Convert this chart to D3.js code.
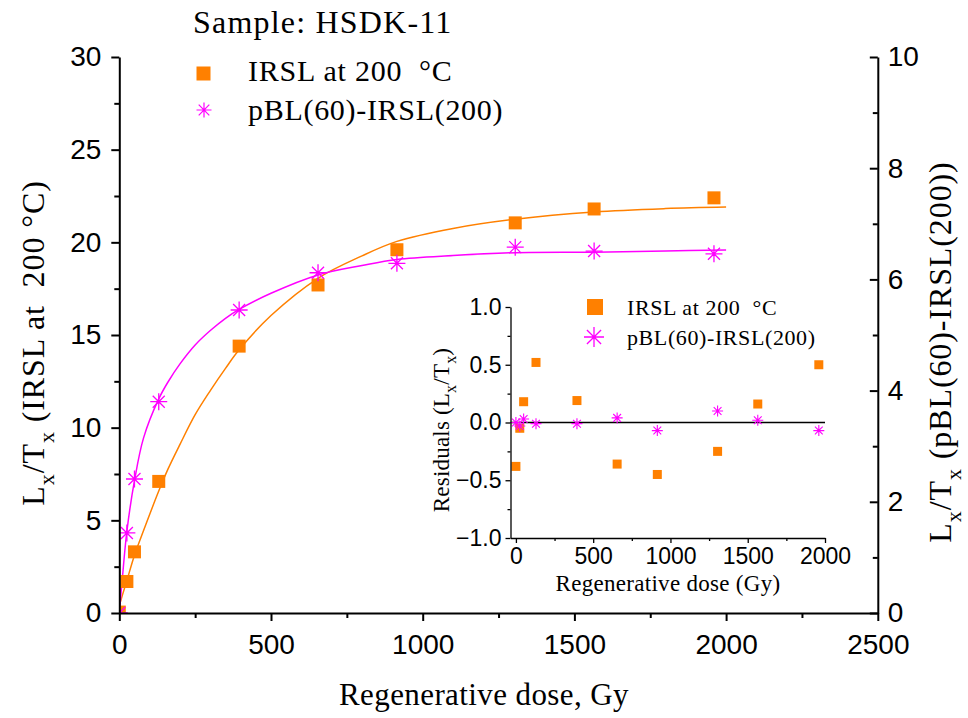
<!DOCTYPE html>
<html>
<head>
<meta charset="utf-8">
<script src="https://cdn.jsdelivr.net/npm/d3@7"></script>
<style>
  body { margin: 0; background: #fff; }
  .serif { font-family: "Liberation Serif", "Times New Roman", serif; }
  .axis text { font-family: "Liberation Sans", Arial, sans-serif; fill: #000; }
  .axis path, .axis line { stroke: #000; }
</style>
</head>
<body>
<svg id="chart" width="968" height="718"></svg>
<script>
// measured doses (Gy) and sensitivity-corrected signals
const doses = [0, 25, 50, 130, 395, 655, 915, 1305, 1565, 1960];
const irslLT = [0.05, 1.7, 3.3, 7.1, 14.4, 17.7, 19.6, 21.05, 21.8, 22.4];
const pblLT = [0.0, 1.44, 2.41, 3.80, 5.45, 6.12, 6.29, 6.58, 6.51, 6.46];

// fitted growth curves
const fitDoses = [0, 10, 25, 50, 80, 130, 160, 200, 250, 300, 350, 395, 500, 655, 800, 915, 1100, 1305, 1565, 1800, 2000];
const irslFit = [0.4, 0.95, 1.75, 3.12, 4.45, 6.58, 7.75, 9.1, 10.7, 12.0, 13.2, 14.2, 16.05, 18.06, 19.27, 20.05, 20.75, 21.25, 21.64, 21.82, 21.9];
const pblFit = [0, 0.62, 1.47, 2.38, 3.15, 3.85, 4.15, 4.48, 4.82, 5.08, 5.3, 5.46, 5.75, 6.08, 6.25, 6.36, 6.43, 6.48, 6.49, 6.51, 6.53];

// residuals (inset)
const irslResid = [-0.38, -0.05, 0.18, 0.52, 0.19, -0.36, -0.45, -0.25, 0.16, 0.50];
const pblResid = [0.0, -0.03, 0.03, -0.01, -0.01, 0.04, -0.07, 0.10, 0.02, -0.07];

const xTicks = [0, 500, 1000, 1500, 2000, 2500];
const xMinor = [250, 750, 1250, 1750, 2250];
const yLeftTicks = [0, 5, 10, 15, 20, 25, 30];
const yLeftMinor = [2.5, 7.5, 12.5, 17.5, 22.5, 27.5];
const yRightTicks = [0, 2, 4, 6, 8, 10];
const yRightMinor = [1, 3, 5, 7, 9];
const insetXTicks = [0, 500, 1000, 1500, 2000];
const insetXMinor = [250, 750, 1250, 1750];
const insetYTicks = [-1, -0.5, 0, 0.5, 1];
const insetYMinor = [-0.75, -0.25, 0.25, 0.75];

const orange = "#ff8000";
const magenta = "#ff00ff";
const serif = '"Liberation Serif", "Times New Roman", serif';

const svg = d3.select("#chart");

// 8-armed star like Origin's asterisk
const star8 = {
  draw(ctx, size) {
    const r = Math.sqrt(size) / 2;
    for (let i = 0; i < 4; i++) {
      const a = i * Math.PI / 4;
      ctx.moveTo(-r * Math.cos(a), -r * Math.sin(a));
      ctx.lineTo(r * Math.cos(a), r * Math.sin(a));
    }
  }
};

// ---------- main plot ----------
const x = d3.scaleLinear().domain([0, 2500]).range([119.3, 877.8]);
const yL = d3.scaleLinear().domain([0, 30]).range([613, 57]);
const yR = d3.scaleLinear().domain([0, 10]).range([613, 57]);

svg.append("clipPath").attr("id", "clipMain")
  .append("rect")
  .attr("x", x(0)).attr("y", yL(30) - 20)
  .attr("width", x(2500) - x(0)).attr("height", yL(0) - yL(30) + 20);

const plot = svg.append("g").attr("clip-path", "url(#clipMain)");

const lineL = d3.line().curve(d3.curveCatmullRom)
  .x((d, i) => x(fitDoses[i])).y(d => yL(d));
const lineR = d3.line().curve(d3.curveCatmullRom)
  .x((d, i) => x(fitDoses[i])).y(d => yR(d));

plot.append("path").datum(irslFit)
  .attr("d", lineL).attr("fill", "none")
  .attr("stroke", orange).attr("stroke-width", 1.5);
plot.append("path").datum(pblFit)
  .attr("d", lineR).attr("fill", "none")
  .attr("stroke", magenta).attr("stroke-width", 1.5);

plot.selectAll(".sq").data(irslLT).enter().append("rect")
  .attr("x", (d, i) => x(doses[i]) - 6.5)
  .attr("y", d => yL(d) - 6.5)
  .attr("width", 13).attr("height", 13)
  .attr("fill", orange);

plot.selectAll(".st").data(pblLT).enter().append("path")
  .attr("transform", (d, i) => `translate(${x(doses[i])},${yR(d)})`)
  .attr("d", d3.symbol().type(star8).size(289))
  .attr("fill", "none").attr("stroke", magenta).attr("stroke-width", 1.3);

// axes
const fmtInt = d3.format("d");

function styleAxis(g, fs, w) {
  g.attr("class", "axis");
  g.selectAll("text").style("font-size", fs + "px");
  g.selectAll("path, line").attr("stroke-width", w);
}

svg.append("g").attr("transform", `translate(0,${yL(0)})`)
  .call(d3.axisBottom(x).tickValues(xMinor).tickSize(5).tickFormat("").tickSizeOuter(0))
  .call(g => g.select(".domain").remove())
  .call(g => styleAxis(g, 28, 2));
svg.append("g").attr("transform", `translate(0,${yL(0)})`)
  .call(d3.axisBottom(x).tickValues(xTicks).tickFormat(fmtInt).tickSize(8).tickPadding(13).tickSizeOuter(0))
  .call(g => styleAxis(g, 28, 2));

svg.append("g").attr("transform", `translate(${x(0)},0)`)
  .call(d3.axisLeft(yL).tickValues(yLeftMinor).tickSize(5).tickFormat("").tickSizeOuter(0))
  .call(g => g.select(".domain").remove())
  .call(g => styleAxis(g, 28, 2));
svg.append("g").attr("transform", `translate(${x(0)},0)`)
  .call(d3.axisLeft(yL).tickValues(yLeftTicks).tickFormat(fmtInt).tickSize(8).tickPadding(10).tickSizeOuter(0))
  .call(g => styleAxis(g, 28, 2));

svg.append("g").attr("transform", `translate(${x(2500)},0)`)
  .call(d3.axisRight(yR).tickValues(yRightMinor).tickSize(-5).tickFormat("").tickSizeOuter(0))
  .call(g => g.select(".domain").remove())
  .call(g => styleAxis(g, 28, 2));
svg.append("g").attr("transform", `translate(${x(2500)},0)`)
  .call(d3.axisRight(yR).tickValues(yRightTicks).tickFormat(fmtInt).tickSize(-8).tickPadding(10).tickSizeOuter(0))
  .call(g => styleAxis(g, 28, 2));

// axis titles
function ltx(t, fs, rest) {
  const sub = Math.round(fs * 0.68), sh = Math.round(fs * 0.3);
  t.append("tspan").text("L");
  t.append("tspan").attr("dy", sh).style("font-size", sub + "px").text("x");
  t.append("tspan").attr("dy", -sh).text("/T");
  t.append("tspan").attr("dy", sh).style("font-size", sub + "px").text("x");
  t.append("tspan").attr("dy", -sh).text(rest);
}

function serifText(parent, size, spacing) {
  return parent.append("text").attr("class", "serif")
    .style("font-family", serif)
    .style("font-size", size + "px")
    .style("letter-spacing", spacing + "px");
}

serifText(svg, 31, 0.4)
  .attr("x", 484).attr("y", 705).attr("text-anchor", "middle")
  .text("Regenerative dose, Gy");

serifText(svg, 32, 0.9)
  .attr("transform", "translate(44,343) rotate(-90)")
  .attr("text-anchor", "middle")
  .call(t => ltx(t, 32, " (IRSL at\u00a0 200 \u00b0C)"));

serifText(svg, 32, 0.9)
  .attr("transform", "translate(951,352) rotate(-90)")
  .attr("text-anchor", "middle")
  .call(t => ltx(t, 32, " (pBL(60)-IRSL(200))"));

// legend
serifText(svg, 32, 1.2)
  .attr("x", 193).attr("y", 33)
  .text("Sample: HSDK-11");
svg.append("rect").attr("x", 196.5).attr("y", 66.5)
  .attr("width", 14).attr("height", 14).attr("fill", orange);
serifText(svg, 30, 0.8)
  .attr("x", 248).attr("y", 81)
  .text("IRSL at 200 \u00a0\u00b0C");
svg.append("path").attr("transform", "translate(204,110)")
  .attr("d", d3.symbol().type(star8).size(225))
  .attr("fill", "none").attr("stroke", magenta).attr("stroke-width", 1.2);
serifText(svg, 30, 0.7)
  .attr("x", 248).attr("y", 120)
  .text("pBL(60)-IRSL(200)");

// ---------- inset residual plot ----------
const xi = d3.scaleLinear().domain([-35, 2000]).range([510.5, 825]);
const yi = d3.scaleLinear().domain([-1, 1]).range([538, 307]);

const inset = svg.append("g");

inset.append("line")
  .attr("x1", xi(-35)).attr("x2", xi(2000))
  .attr("y1", yi(0)).attr("y2", yi(0))
  .attr("stroke", "#000").attr("stroke-width", 1.5);

inset.selectAll(".rsq").data(irslResid).enter().append("rect")
  .attr("x", (d, i) => xi(doses[i]) - 4.5)
  .attr("y", d => yi(d) - 4.5)
  .attr("width", 9).attr("height", 9)
  .attr("fill", orange);

inset.selectAll(".rst").data(pblResid).enter().append("path")
  .attr("transform", (d, i) => `translate(${xi(doses[i])},${yi(d)})`)
  .attr("d", d3.symbol().type(star8).size(121))
  .attr("fill", "none").attr("stroke", magenta).attr("stroke-width", 1.1);

inset.append("g").attr("transform", `translate(0,${yi(-1)})`)
  .call(d3.axisBottom(xi).tickValues(insetXMinor).tickSize(3).tickFormat("").tickSizeOuter(0))
  .call(g => g.select(".domain").remove())
  .call(g => styleAxis(g, 23, 1.3));
inset.append("g").attr("transform", `translate(0,${yi(-1)})`)
  .call(d3.axisBottom(xi).tickValues(insetXTicks).tickFormat(fmtInt).tickSize(5).tickPadding(5).tickSizeOuter(0))
  .call(g => styleAxis(g, 23, 1.3));

inset.append("g").attr("transform", `translate(${xi(-35)},0)`)
  .call(d3.axisLeft(yi).tickValues(insetYMinor).tickSize(3).tickFormat("").tickSizeOuter(0))
  .call(g => g.select(".domain").remove())
  .call(g => styleAxis(g, 23, 1.3));
inset.append("g").attr("transform", `translate(${xi(-35)},0)`)
  .call(d3.axisLeft(yi).tickValues(insetYTicks).tickFormat(d3.format(".1f")).tickSize(5).tickPadding(4).tickSizeOuter(0))
  .call(g => styleAxis(g, 23, 1.3));

serifText(inset, 23, 0.3)
  .attr("x", 668).attr("y", 591).attr("text-anchor", "middle")
  .text("Regenerative dose (Gy)");

serifText(inset, 23, 0.2)
  .attr("transform", "translate(449,430) rotate(-90)")
  .attr("text-anchor", "middle")
  .call(t => {
    t.append("tspan").text("Residuals (L");
    t.append("tspan").attr("dy", 7).style("font-size", "16px").text("x");
    t.append("tspan").attr("dy", -7).text("/T");
    t.append("tspan").attr("dy", 7).style("font-size", "16px").text("x");
    t.append("tspan").attr("dy", -7).text(")");
  });

// inset legend
inset.append("rect").attr("x", 587).attr("y", 299)
  .attr("width", 16).attr("height", 16).attr("fill", orange);
serifText(inset, 22, 0.6)
  .attr("x", 627).attr("y", 315)
  .text("IRSL at 200 \u00a0\u00b0C");
inset.append("path").attr("transform", "translate(594,337)")
  .attr("d", d3.symbol().type(star8).size(400))
  .attr("fill", "none").attr("stroke", magenta).attr("stroke-width", 1.3);
serifText(inset, 22, 0.6)
  .attr("x", 627).attr("y", 345)
  .text("pBL(60)-IRSL(200)");
</script>
</body>
</html>
